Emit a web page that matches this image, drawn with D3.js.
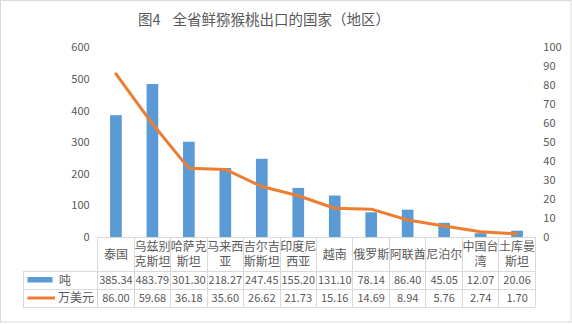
<!DOCTYPE html>
<html>
<head>
<meta charset="utf-8">
<script src="https://cdn.jsdelivr.net/npm/d3@7/dist/d3.min.js"></script>
<style>
  html, body { margin: 0; padding: 0; background: #fff; }
  svg { display: block; font-family: "Noto Sans CJK SC", "Noto Sans", sans-serif; }
</style>
</head>
<body>
<svg id="chart" width="572" height="324"></svg>
<script>
// Export destinations of fresh kiwifruit
const categories = ["泰国", "乌兹别克斯坦", "哈萨克斯坦", "马来西亚", "吉尔吉斯斯坦", "印度尼西亚",
                    "越南", "俄罗斯", "阿联酋", "尼泊尔", "中国台湾", "土库曼斯坦"];
const tons = [385.34, 483.79, 301.30, 218.27, 247.45, 155.20, 131.10, 78.14, 86.40, 45.05, 12.07, 20.06];
const usd = [86.00, 59.68, 36.18, 35.60, 26.62, 21.73, 15.16, 14.69, 8.94, 5.76, 2.74, 1.70];
const tonsLabel = "吨";
const usdLabel = "万美元";
const leftTicks = [0, 100, 200, 300, 400, 500, 600];
const rightTicks = [0, 10, 20, 30, 40, 50, 60, 70, 80, 90, 100];
const titleNo = "图4";
const titleText = "全省鲜猕猴桃出口的国家（地区）";

const svg = d3.select("#chart");
const textColor = "#595959";
const gridColor = "#d9d9d9";
const barColor = "#5b9bd5";
const lineColor = "#ed7d31";

// outer frame
svg.append("rect").attr("x", 0.5).attr("y", 0.5).attr("width", 570.5).attr("height", 321.5)
  .attr("fill", "#fff").attr("stroke", gridColor);

const t = svg.append("text").attr("x", 138).attr("y", 25).attr("font-size", 14.5)
  .attr("fill", textColor);
t.append("tspan").text(titleNo);
t.append("tspan").attr("dx", 12).text(titleText);

const plotLeft = 97.7, plotRight = 535.3, plotTop = 47.3, plotBottom = 237;

const x = d3.scaleBand().domain(categories).range([plotLeft, plotRight]).padding(0);
const yL = d3.scaleLinear().domain([0, 600]).range([plotBottom, plotTop]);
const yR = d3.scaleLinear().domain([0, 100]).range([plotBottom, plotTop]);

// axes (labels only)
const axL = svg.append("g").attr("transform", `translate(${plotLeft - 8},0)`)
  .call(d3.axisLeft(yL).tickValues(leftTicks).tickSize(0).tickPadding(0));
const axR = svg.append("g").attr("transform", `translate(${plotRight + 8},0)`)
  .call(d3.axisRight(yR).tickValues(rightTicks).tickSize(0).tickPadding(0));
[axL, axR].forEach(a => {
  a.select(".domain").remove();
  a.selectAll("text").attr("fill", textColor).attr("font-size", 11)
    .attr("font-family", "\"Noto Sans CJK SC\", sans-serif");
});

// bars
const bw = x.bandwidth() * 0.32;
svg.append("g").selectAll("rect").data(tons).join("rect")
  .attr("x", (d, i) => x(categories[i]) + x.bandwidth() / 2 - bw / 2)
  .attr("y", d => yL(d))
  .attr("width", bw)
  .attr("height", d => yL(0) - yL(d))
  .attr("fill", barColor);

// line
const line = d3.line()
  .x((d, i) => x(categories[i]) + x.bandwidth() / 2)
  .y(d => yR(d));
svg.append("path").datum(usd).attr("d", line)
  .attr("fill", "none").attr("stroke", lineColor).attr("stroke-width", 3)
  .attr("stroke-linejoin", "round").attr("stroke-linecap", "round");

// data table
const rowTop = plotBottom, row1 = 271.5, row2 = 289.2, row3 = 307;
const legendLeft = 23;
const table = svg.append("g").attr("stroke", gridColor).attr("stroke-width", 1).attr("shape-rendering", "crispEdges");
table.append("line").attr("x1", plotLeft).attr("x2", plotRight).attr("y1", rowTop).attr("y2", rowTop);
[row1, row2, row3].forEach(yy =>
  table.append("line").attr("x1", legendLeft).attr("x2", plotRight).attr("y1", yy).attr("y2", yy));
table.append("line").attr("x1", legendLeft).attr("x2", legendLeft).attr("y1", row1).attr("y2", row3);
categories.concat([null]).forEach((c, i) => {
  const xx = c === null ? plotRight : x(c);
  table.append("line").attr("x1", xx).attr("x2", xx).attr("y1", rowTop).attr("y2", row3);
});

// category labels, wrapped at three characters
const cat = svg.append("g").attr("fill", textColor).attr("font-size", 12).attr("text-anchor", "middle");
categories.forEach(c => {
  const parts = [];
  for (let k = 0; k < c.length; k += 3) parts.push(c.slice(k, k + 3));
  const cx = x(c) + x.bandwidth() / 2;
  const mid = (rowTop + row1) / 2;
  parts.forEach((p, j) => {
    const cy = mid + (j - (parts.length - 1) / 2) * 15.6;
    cat.append("text").attr("x", cx).attr("y", cy).attr("dy", "0.36em").text(p);
  });
});

// value rows
const vals = svg.append("g").attr("fill", textColor).attr("font-size", 11).attr("text-anchor", "middle");
[[tons, (row1 + row2) / 2], [usd, (row2 + row3) / 2]].forEach(([arr, cy]) => {
  arr.forEach((v, i) => {
    vals.append("text").attr("x", x(categories[i]) + x.bandwidth() / 2).attr("y", cy)
      .attr("dy", "0.36em").text(v.toFixed(2));
  });
});

// legend keys
svg.append("rect").attr("x", 27.5).attr("y", 277).attr("width", 25).attr("height", 5.5).attr("fill", barColor);
svg.append("line").attr("x1", 27.5).attr("x2", 55).attr("y1", 298).attr("y2", 298)
  .attr("stroke", lineColor).attr("stroke-width", 3);
svg.append("text").attr("x", 59).attr("y", (row1 + row2) / 2).attr("dy", "0.36em")
  .attr("font-size", 12).attr("fill", textColor).text(tonsLabel);
svg.append("text").attr("x", 58).attr("y", (row2 + row3) / 2).attr("dy", "0.36em")
  .attr("font-size", 12).attr("fill", textColor).text(usdLabel);
</script>
</body>
</html>
